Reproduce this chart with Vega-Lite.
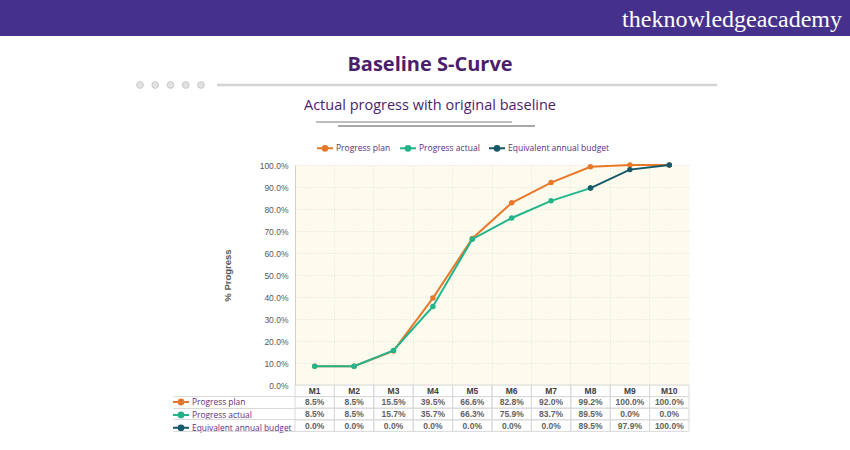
{
  "$schema": "https://vega.github.io/schema/vega-lite/v6.json",
  "padding": 0,
  "background": "#ffffff",
  "spacing": 18,
  "config": {"view": {"stroke": null}, "font": "Liberation Sans"},
  "datasets": {
    "progress": [
      {"month": "M1", "series": "Progress plan", "value": 0.085},
      {"month": "M2", "series": "Progress plan", "value": 0.085},
      {"month": "M3", "series": "Progress plan", "value": 0.155},
      {"month": "M4", "series": "Progress plan", "value": 0.395},
      {"month": "M5", "series": "Progress plan", "value": 0.666},
      {"month": "M6", "series": "Progress plan", "value": 0.828},
      {"month": "M7", "series": "Progress plan", "value": 0.92},
      {"month": "M8", "series": "Progress plan", "value": 0.992},
      {"month": "M9", "series": "Progress plan", "value": 1.0},
      {"month": "M10", "series": "Progress plan", "value": 1.0},
      {"month": "M1", "series": "Progress actual", "value": 0.085},
      {"month": "M2", "series": "Progress actual", "value": 0.085},
      {"month": "M3", "series": "Progress actual", "value": 0.157},
      {"month": "M4", "series": "Progress actual", "value": 0.357},
      {"month": "M5", "series": "Progress actual", "value": 0.663},
      {"month": "M6", "series": "Progress actual", "value": 0.759},
      {"month": "M7", "series": "Progress actual", "value": 0.837},
      {"month": "M8", "series": "Progress actual", "value": 0.895},
      {"month": "M9", "series": "Progress actual", "value": 0.0},
      {"month": "M10", "series": "Progress actual", "value": 0.0},
      {"month": "M1", "series": "Equivalent annual budget", "value": 0.0},
      {"month": "M2", "series": "Equivalent annual budget", "value": 0.0},
      {"month": "M3", "series": "Equivalent annual budget", "value": 0.0},
      {"month": "M4", "series": "Equivalent annual budget", "value": 0.0},
      {"month": "M5", "series": "Equivalent annual budget", "value": 0.0},
      {"month": "M6", "series": "Equivalent annual budget", "value": 0.0},
      {"month": "M7", "series": "Equivalent annual budget", "value": 0.0},
      {"month": "M8", "series": "Equivalent annual budget", "value": 0.895},
      {"month": "M9", "series": "Equivalent annual budget", "value": 0.979},
      {"month": "M10", "series": "Equivalent annual budget", "value": 1.0}
    ]
  },
  "vconcat": [
    {
      "width": 850,
      "height": 36,
      "view": {"fill": "#45318b", "stroke": null},
      "data": {"values": [{"logo": "theknowledgeacademy"}]},
      "mark": {"type": "text", "align": "right", "baseline": "middle", "dy": 2, "font": "Liberation Serif", "fontSize": 24, "color": "#ffffff"},
      "encoding": {
        "x": {"datum": 842, "type": "quantitative", "scale": {"domain": [0, 850], "nice": false}, "axis": null},
        "text": {"field": "logo"}
      }
    },
    {
      "spacing": 7,
      "vconcat": [
        {
          "width": 850,
          "height": 8,
          "title": {"text": "Baseline S-Curve", "anchor": "middle", "frame": "group", "offset": 5, "dx": 5, "font": "Open Sans", "fontSize": 20, "fontWeight": "bold", "color": "#4b1e6b"},
          "layer": [
            {
              "data": {"values": [{"dot": 1}, {"dot": 2}, {"dot": 3}, {"dot": 4}, {"dot": 5}]},
              "mark": {"type": "circle", "size": 45, "color": "#e2e2e2", "stroke": "#c9c9c9", "strokeWidth": 1, "opacity": 1},
              "encoding": {"x": {"field": "dot", "type": "quantitative", "scale": {"domain": [-8.18, 47.56], "nice": false, "zero": false}, "axis": null}}
            },
            {
              "data": {"values": [{}]},
              "mark": {"type": "rule", "color": "#d4d4d4", "strokeWidth": 2.5},
              "encoding": {
                "x": {"datum": 6.05, "type": "quantitative"},
                "x2": {"datum": 38.84},
                "y": {"datum": 0.5, "type": "quantitative", "scale": {"domain": [0, 1]}, "axis": null}
              }
            }
          ]
        },
        {
          "spacing": 15,
          "vconcat": [
            {
              "width": 850,
              "height": 8,
              "title": {"text": "Actual progress with original baseline", "anchor": "middle", "frame": "group", "offset": 6.5, "dx": 5, "font": "Open Sans", "fontSize": 14.5, "fontWeight": "normal", "color": "#4b1e6b"},
              "layer": [
                {
                  "data": {"values": [{}]},
                  "mark": {"type": "rule", "color": "#bdbdbd", "strokeWidth": 2},
                  "encoding": {
                    "x": {"datum": 316, "type": "quantitative", "scale": {"domain": [0, 850], "nice": false}, "axis": null},
                    "x2": {"datum": 512},
                    "y": {"datum": "a", "type": "nominal", "scale": {"type": "point", "domain": ["a", "b"], "padding": 0.5}, "axis": null}
                  }
                },
                {
                  "data": {"values": [{}]},
                  "mark": {"type": "rule", "color": "#a8a8a8", "strokeWidth": 2},
                  "encoding": {
                    "x": {"datum": 338, "type": "quantitative"},
                    "x2": {"datum": 535},
                    "y": {"datum": "b", "type": "nominal"}
                  }
                }
              ]
            },
            {
              "spacing": 0,
              "hconcat": [
                {"width": 172, "height": 10, "data": {"values": []}, "mark": "point"},
                {
                  "spacing": 0,
                  "bounds": "flush",
                  "resolve": {"legend": {"color": "independent", "stroke": "independent"}},
                  "vconcat": [
                    {
                      "width": 394,
                      "height": 220,
                      "view": {"fill": "#fcfbed", "stroke": null},
                      "data": {"name": "progress"},
                      "transform": [{"filter": "datum.value > 0"}],
                      "encoding": {
                        "x": {"field": "month", "type": "ordinal", "sort": ["M1", "M2", "M3", "M4", "M5", "M6", "M7", "M8", "M9", "M10"], "bandPosition": 0.5, "scale": {"type": "band", "paddingInner": 0, "paddingOuter": 0}, "axis": {"labels": false, "ticks": false, "domain": false, "title": null, "grid": true, "bandPosition": 0, "gridColor": "#e2e2d2", "gridDash": [1, 2]}},
                        "y": {"field": "value", "type": "quantitative", "scale": {"domain": [0, 1], "nice": false}, "axis": {"values": [0, 0.1, 0.2, 0.3, 0.4, 0.5, 0.6, 0.7, 0.8, 0.9, 1.0], "format": ".1%", "title": "% Progress", "titleFontSize": 9.5, "titleFontWeight": "bold", "titleColor": "#595959", "titlePadding": 27, "labelFontSize": 8.5, "labelColor": "#595959", "labelPadding": 7, "ticks": false, "domain": true, "domainColor": "#d0d0d0", "grid": true, "gridColor": "#e2e2d2", "gridDash": [1, 2]}},
                        "color": {"field": "series", "type": "nominal", "scale": {"domain": ["Progress plan", "Progress actual", "Equivalent annual budget"], "range": ["#e8782a", "#22b58c", "#16596a"]}, "legend": {"orient": "none", "legendX": 25, "legendY": -22, "direction": "horizontal", "title": null, "symbolType": "M-2,0H2M-0.6,0A0.6,0.6 0 1,1 0.6,0A0.6,0.6 0 1,1 -0.6,0Z", "symbolSize": 64, "symbolStrokeWidth": 2, "labelFont": "Open Sans", "labelFontSize": 8.5, "labelColor": "#5b2c83", "labelOffset": 6, "columnPadding": 5, "padding": 0, "encode": {"symbols": {"update": {"fill": {"scale": "color", "field": "value"}, "opacity": {"value": 1}}}}}}
                      },
                      "layer": [
                        {"transform": [{"filter": "datum.series == 'Progress plan'"}], "mark": {"type": "line", "strokeWidth": 2, "point": {"filled": true, "size": 30, "opacity": 1}}},
                        {"transform": [{"filter": "datum.series == 'Progress actual'"}], "mark": {"type": "line", "strokeWidth": 2, "point": {"filled": true, "size": 30, "opacity": 1}}},
                        {"transform": [{"filter": "datum.series == 'Equivalent annual budget'"}], "mark": {"type": "line", "strokeWidth": 2, "point": {"filled": true, "size": 30, "opacity": 1}}}
                      ]
                    },
                    {
                      "width": 394,
                      "height": 58,
                      "data": {"name": "progress"},
                      "encoding": {
                        "x": {"field": "month", "type": "ordinal", "sort": ["M1", "M2", "M3", "M4", "M5", "M6", "M7", "M8", "M9", "M10"], "scale": {"type": "band", "paddingInner": 0, "paddingOuter": 0}, "axis": null},
                        "y": {"field": "series", "type": "nominal", "scale": {"type": "band", "domain": ["hdr", "Progress plan", "Progress actual", "Equivalent annual budget", "end"], "paddingInner": 0, "paddingOuter": 0}, "axis": {"values": ["Progress plan", "Progress actual", "Equivalent annual budget", "end"], "bandPosition": 0, "tickSize": 122, "tickColor": "#d9d9d9", "tickWidth": 1, "labels": false, "domain": false, "title": null, "grid": false}}
                      },
                      "layer": [
                        {"mark": {"type": "rect", "filled": false, "color": "#d9d9d9", "strokeWidth": 1}},
                        {"transform": [{"filter": "datum.series == 'Progress plan'"}], "mark": {"type": "rect", "filled": false, "color": "#d9d9d9", "strokeWidth": 1}, "encoding": {"y": {"datum": "hdr"}}},
                        {"transform": [{"filter": "datum.series == 'Progress plan'"}], "mark": {"type": "text", "fontWeight": "bold", "fontSize": 8.5, "color": "#404040"}, "encoding": {"y": {"datum": "hdr"}, "text": {"field": "month"}}},
                        {
                          "mark": {"type": "text", "fontSize": 8.5, "fontWeight": "bold", "color": "#626262", "strokeWidth": 0},
                          "encoding": {
                            "text": {"field": "value", "type": "quantitative", "format": ".1%"},
                            "stroke": {"field": "series", "type": "nominal", "scale": {"domain": ["Progress plan", "Progress actual", "Equivalent annual budget"], "range": ["#e8782a", "#22b58c", "#16596a"]}, "legend": {"orient": "none", "legendX": -119, "legendY": 12, "direction": "vertical", "title": null, "symbolType": "M-2,0H2M-0.6,0A0.6,0.6 0 1,1 0.6,0A0.6,0.6 0 1,1 -0.6,0Z", "symbolSize": 64, "symbolStrokeWidth": 2, "labelFont": "Open Sans", "labelFontSize": 8.4, "labelColor": "#5b2c83", "labelOffset": 6, "rowPadding": -1.1, "padding": 0, "encode": {"symbols": {"update": {"fill": {"scale": "stroke", "field": "value"}, "opacity": {"value": 1}}}}}}
                          }
                        }
                      ]
                    }
                  ]
                }
              ]
            }
          ]
        }
      ]
    }
  ]
}
